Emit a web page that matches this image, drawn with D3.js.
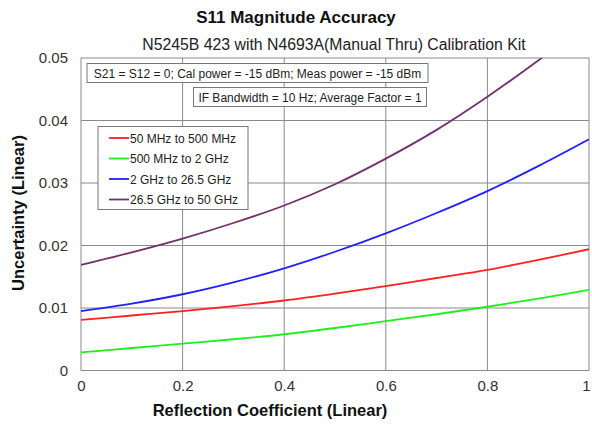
<!DOCTYPE html>
<html>
<head>
<meta charset="utf-8">
<script src="https://cdn.jsdelivr.net/npm/d3@7"></script>
<style>
  body { margin: 0; background: #fff; }
  svg { font-family: "Liberation Sans", Arial, sans-serif; }
</style>
</head>
<body>
<svg width="592" height="425"></svg>
<script>
const svg = d3.select("svg");

// reflection coefficient samples
const gamma = [0, 0.1, 0.2, 0.3, 0.4, 0.5, 0.6, 0.7, 0.8, 0.9, 1.0];
// uncertainty per frequency band
const band1 = [0.0081, 0.0088, 0.0095, 0.0103, 0.0112, 0.0123, 0.0135, 0.0148, 0.0161, 0.0177, 0.0194];
const band2 = [0.0029, 0.0036, 0.0043, 0.0050, 0.0058, 0.0068, 0.0079, 0.0090, 0.0102, 0.0115, 0.0129];
const band3 = [0.0095, 0.0107, 0.0122, 0.0141, 0.01635, 0.0190, 0.02195, 0.0252, 0.0287, 0.0327, 0.0370];
const band4 = [0.0169, 0.0189, 0.0211, 0.0236, 0.0264, 0.0298, 0.0339, 0.0385, 0.0438, 0.0496, 0.0558];

const bandNames = ["50 MHz to 500 MHz", "500 MHz to 2 GHz", "2 GHz to 26.5 GHz", "26.5 GHz to 50 GHz"];
const bandColors = ["#ff2020", "#20ee20", "#2020ff", "#73306c"];
const xTicks = [0, 0.2, 0.4, 0.6, 0.8, 1];
const yTicks = [0, 0.01, 0.02, 0.03, 0.04, 0.05];
const notes = ["S21 = S12 = 0; Cal power = -15 dBm; Meas power = -15 dBm",
               "IF Bandwidth = 10 Hz; Average Factor = 1"];

const x = d3.scaleLinear().domain([0, 1]).range([81, 589]);
const y = d3.scaleLinear().domain([0, 0.05]).range([370.5, 58]);

// titles
svg.append("text").attr("x", 296).attr("y", 23).attr("text-anchor", "middle")
  .attr("font-size", 17).attr("font-weight", "bold").attr("fill", "#111")
  .text("S11 Magnitude Accuracy");
svg.append("text").attr("x", 334).attr("y", 50).attr("text-anchor", "middle")
  .attr("font-size", 15.8).attr("fill", "#222")
  .text("N5245B 423 with N4693A(Manual Thru) Calibration Kit");

// grid
const grid = svg.append("g").attr("stroke", "#8a8a8a").attr("stroke-width", 1);
grid.selectAll(".gx").data(xTicks.slice(1, -1)).join("line")
  .attr("x1", d => x(d)).attr("x2", d => x(d))
  .attr("y1", y(0)).attr("y2", y(0.05));
grid.selectAll(".gy").data(yTicks.slice(1, -1)).join("line")
  .attr("y1", d => y(d)).attr("y2", d => y(d))
  .attr("x1", x(0)).attr("x2", x(1));
svg.append("rect").attr("x", x(0)).attr("y", y(0.05))
  .attr("width", x(1) - x(0)).attr("height", y(0) - y(0.05))
  .attr("fill", "none").attr("stroke", "#8a8a8a");

// axes (labels only)
const xAxis = svg.append("g").attr("transform", `translate(0,${y(0)})`)
  .call(d3.axisBottom(x).tickValues(xTicks).tickSize(0).tickPadding(10).tickFormat(d3.format("")));
const yAxis = svg.append("g").attr("transform", `translate(${x(0)},0)`)
  .call(d3.axisLeft(y).tickValues(yTicks).tickSize(0).tickPadding(13).tickFormat(d3.format("")));
[xAxis, yAxis].forEach(a => {
  a.select(".domain").remove();
  a.selectAll("text").attr("font-size", 15).attr("fill", "#333")
    .attr("font-family", "Liberation Sans, Arial, sans-serif");
});
// last x label sits at the window edge
xAxis.selectAll(".tick").filter(d => d === 1).select("text").attr("dx", -3);

svg.append("text").attr("x", 270).attr("y", 416).attr("text-anchor", "middle")
  .attr("font-size", 16.5).attr("font-weight", "bold").attr("fill", "#111")
  .text("Reflection Coefficient (Linear)");
svg.append("text").attr("transform", "translate(24,213) rotate(-90)").attr("text-anchor", "middle")
  .attr("font-size", 16.5).attr("font-weight", "bold").attr("fill", "#111")
  .text("Uncertainty (Linear)");

// curves
svg.append("clipPath").attr("id", "plotClip").append("rect")
  .attr("x", x(0)).attr("y", y(0.05)).attr("width", x(1) - x(0)).attr("height", y(0) - y(0.05));

const line = d3.line().x(d => x(d[0])).y(d => y(d[1])).curve(d3.curveCatmullRom);
const series = [band1, band2, band3, band4];
svg.append("g").attr("clip-path", "url(#plotClip)")
  .selectAll("path").data(series).join("path")
  .attr("d", s => line(gamma.map((g, i) => [g, s[i]])))
  .attr("fill", "none")
  .attr("stroke", (s, i) => bandColors[i])
  .attr("stroke-width", 1.8);

// note boxes
const noteBoxes = [[87, 63.5, 341, 19], [193.5, 87.5, 233, 19]];
notes.forEach((t, i) => {
  const b = noteBoxes[i];
  svg.append("rect").attr("x", b[0]).attr("y", b[1]).attr("width", b[2]).attr("height", b[3])
    .attr("fill", "#fff").attr("stroke", "#777");
  svg.append("text").attr("x", b[0] + b[2] / 2).attr("y", b[1] + 14)
    .attr("text-anchor", "middle").attr("font-size", 12).attr("fill", "#222").text(t);
});

// legend
const legend = svg.append("g");
legend.append("rect").attr("x", 98).attr("y", 126.5).attr("width", 150).attr("height", 83)
  .attr("fill", "#fff").attr("stroke", "#777");
bandNames.forEach((n, i) => {
  const ly = 138 + i * 20.5;
  legend.append("line").attr("x1", 109).attr("x2", 129).attr("y1", ly).attr("y2", ly)
    .attr("stroke", bandColors[i]).attr("stroke-width", 1.8);
  legend.append("text").attr("x", 130).attr("y", ly + 4.5)
    .attr("font-size", 12).attr("fill", "#222").text(n);
});
</script>
</body>
</html>
